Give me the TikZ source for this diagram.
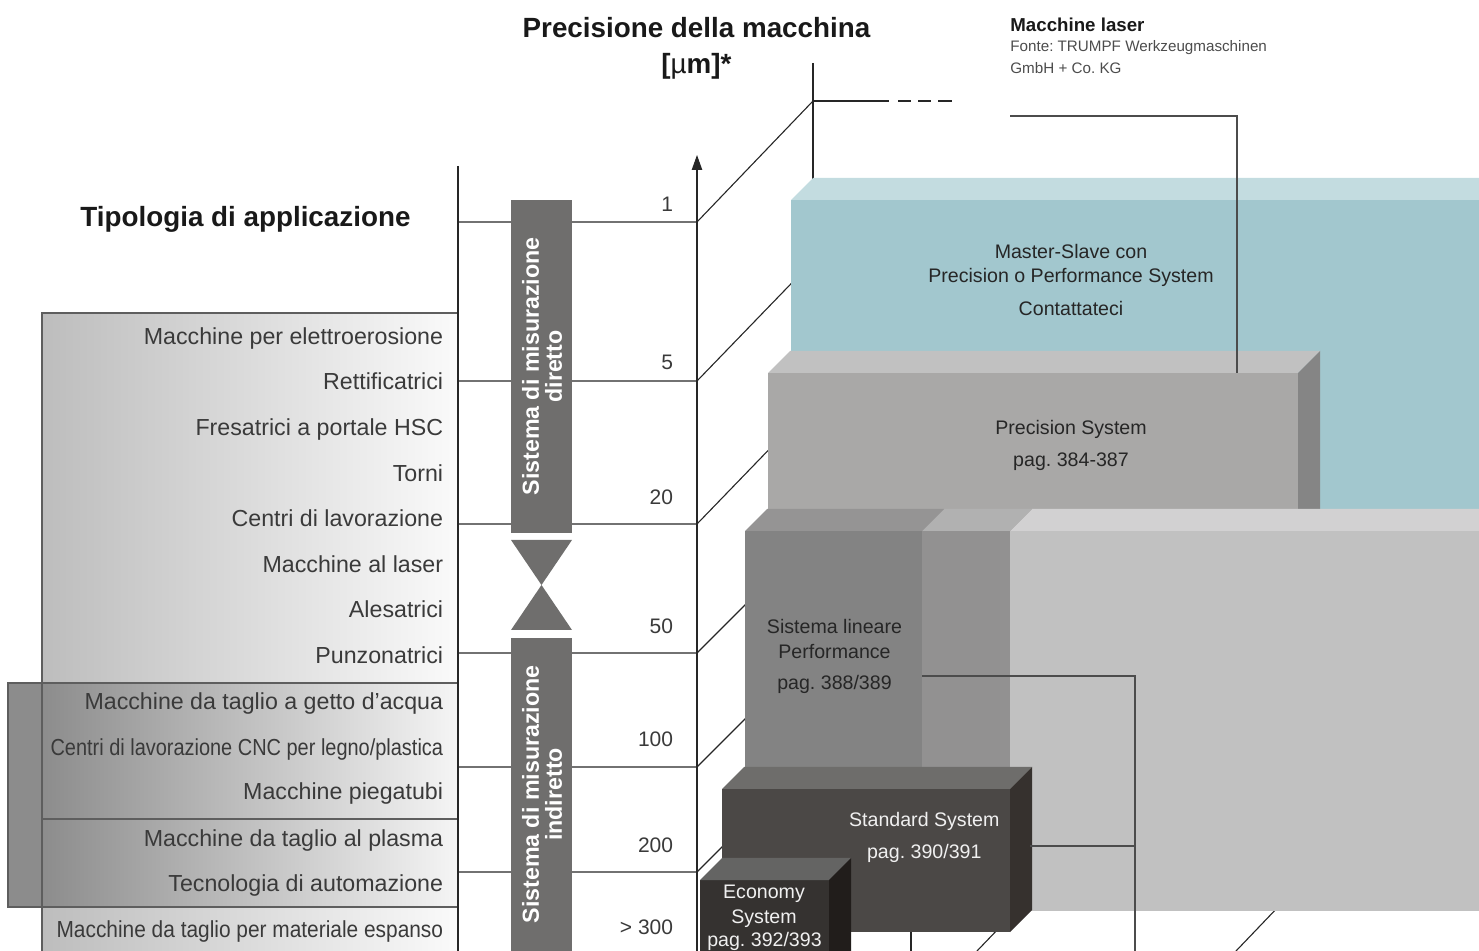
\documentclass[tikz,border=0pt]{standalone}
\usepackage{fontspec}
\setmainfont{Liberation Sans}
\usepackage{graphicx}
\usetikzlibrary{arrows.meta, calc, positioning}
\definecolor{tealfront}{HTML}{A2C7CE}
\definecolor{tealtop}{HTML}{C3DCE0}
\definecolor{precfront}{HTML}{A9A8A7}
\definecolor{prectop}{HTML}{C1C1C1}
\definecolor{precside}{HTML}{858585}
\definecolor{perffront}{HTML}{838383}
\definecolor{perftop}{HTML}{959494}
\definecolor{midfront}{HTML}{929191}
\definecolor{midtop}{HTML}{B1B1B1}
\definecolor{bigfront}{HTML}{C1C1C1}
\definecolor{bigtop}{HTML}{D2D1D2}
\definecolor{stdfront}{HTML}{4B4846}
\definecolor{stdtop}{HTML}{6E6D6B}
\definecolor{stdside}{HTML}{36312E}
\definecolor{ecofront}{HTML}{353230}
\definecolor{ecotop}{HTML}{646463}
\definecolor{ecoside}{HTML}{211D1B}
\definecolor{barfill}{HTML}{6F6E6D}
\definecolor{applight}{HTML}{BDBDBD}
\definecolor{appdark}{HTML}{8C8C8C}
\definecolor{framegrey}{HTML}{5E5E5E}
\definecolor{textgrey}{HTML}{3A3A3A}
\tikzset{
  apptext/.style={anchor=base east, inner sep=0pt, text=textgrey, font=\fontsize{11.6}{14}\selectfont},
  ticklabel/.style={anchor=base east, inner sep=0pt, text=textgrey, font=\fontsize{10.5}{12}\selectfont},
  heading/.style={inner sep=0pt, text=black!90, font=\fontsize{13.9}{16}\selectfont\bfseries},
  source/.style={anchor=base west, inner sep=0pt, text=black!70, font=\fontsize{7.6}{9}\selectfont},
  blocktext/.style={anchor=base, inner sep=0pt, text=black!85, font=\fontsize{9.8}{12}\selectfont},
  blockwhite/.style={blocktext, text=white!94!black},
  bartext/.style={rotate=90, align=center, inner sep=0pt, text=white, font=\fontsize{11.6}{11.5}\selectfont\bfseries},
  gridline/.style={line width=0.55pt, black!85},
  frame/.style={line width=0.55pt, framegrey},
  leader/.style={line width=0.55pt, black!70}
}
\begin{document}
\frenchspacing
\begin{tikzpicture}[x=0.5pt, y=-0.5pt]
  \useasboundingbox (0,0) rectangle (1479,951);
  \clip (0,0) rectangle (1479,951);

  % application list
  \shade[left color=applight, right color=white!98!black] (42,313) rectangle (458,960);
  \shade[left color=appdark, right color=white!96!black] (42,683) rectangle (458,907);
  \fill[appdark] (8,683) rectangle (42,907);
  \draw[frame] (8,683) rectangle (42,907);
  \draw[frame] (42,960) -- (42,313) -- (458,313);
  \draw[frame] (8,683) -- (458,683);
  \draw[frame] (42,819) -- (458,819);
  \draw[frame] (8,907) -- (458,907);

  % axes and grid
  \coordinate (g1) at (697,222);
  \coordinate (g5) at (697,381);
  \coordinate (g20) at (697,524);
  \coordinate (g50) at (697,653);
  \coordinate (g100) at (697,767);
  \coordinate (g200) at (697,872);
  \draw[gridline] (458,166) -- (458,951);
  \draw[gridline] (458,222) -- (g1) -- ++(116,-121) coordinate (back);
  \draw[gridline] (458,381) -- (g5) -- ++(116,-120);
  \draw[gridline] (458,524) -- (g20) -- ++(116,-120);
  \draw[gridline] (458,653) -- (g50) -- ++(60,-60);
  \draw[gridline] (458,767) -- (g100) -- ++(60,-60);
  \draw[gridline] (458,872) -- (g200) -- ++(40,-40);
  \draw[gridline, -{Triangle[width=5.2pt,length=7.5pt]}] (697,951) -- (697,155);
  \draw[gridline] (813,63) -- (813,190);
  \draw[gridline] (back) -- (889,101);
  \draw[gridline, dash pattern=on 6.6pt off 3.5pt] (898,101) -- (952,101);
  \draw[gridline] (911,925) -- (911,951);
  \draw[gridline] (977,951) -- (1000,927);
  \draw[gridline] (1236,951) -- (1280,905);

  % measuring bars
  \fill[barfill] (511,200) rectangle (572,533);
  \fill[barfill] (511,540) -- (572,540) -- (541.5,585) -- cycle;
  \fill[barfill] (511,630) -- (572,630) -- (541.5,585) -- cycle;
  \fill[barfill] (511,638) rectangle (572,960);

  % Master-Slave block
  \fill[tealfront] (791,200) rectangle (1479,531);
  \fill[tealtop] (791,200) -- (813,178) -- (1501,178) -- (1479,200) -- cycle;
  % Precision block
  \fill[precfront] (768,373) rectangle (1298,531);
  \fill[prectop] (768,373) -- (790,351) -- (1320,351) -- (1298,373) -- cycle;
  \fill[precside] (1298,373) -- (1320,351) -- (1320,509) -- (1298,531) -- cycle;

  \coordinate (precpin) at (1237,373);
  % lower row
  \fill[bigfront] (1010,531) rectangle (1479,911);
  \fill[bigtop] (1010,531) -- (1032,509) -- (1501,509) -- (1479,531) -- cycle;
  \fill[midfront] (922,531) rectangle (1010,790);
  \fill[midtop] (922,531) -- (944,509) -- (1032,509) -- (1010,531) -- cycle;
  \fill[perffront] (745,531) rectangle (922,790);
  \fill[perftop] (745,531) -- (767,509) -- (944,509) -- (922,531) -- cycle;
  % Standard block
  \fill[stdfront] (722,789) rectangle (1010,932);
  \fill[stdtop] (722,789) -- (744,767) -- (1032,767) -- (1010,789) -- cycle;
  \fill[stdside] (1010,789) -- (1032,767) -- (1032,910) -- (1010,932) -- cycle;
  % Economy block
  \fill[ecofront] (700,880) rectangle (829,960);
  \fill[ecotop] (700,880) -- (722,858) -- (851,858) -- (829,880) -- cycle;
  \fill[ecoside] (829,880) -- (851,858) -- (851,960) -- (829,960) -- cycle;

  % titles
  \node[heading, anchor=base west] (apptitle) at (80,226.7) {Tipologia di applicazione};
  \node[heading, anchor=base] (prectitle) at (696.5,37.3) {Precisione della macchina};
  \node[heading, anchor=base] (unit) at (696.5,74) {[{\mdseries µ}m]*};
  \node[anchor=base west, inner sep=0pt, text=black!90, font=\fontsize{9.35}{11}\selectfont\bfseries]
        (laser) at (1010,31.7) {Macchine laser};
  \node[source] (src1) at (1010,51.7) {Fonte: TRUMPF Werkzeugmaschinen};
  \node[source] (src2) at (1010,74) {GmbH + Co. KG};

  % leaders
  \coordinate (laserlead) at ($(src2.base west)+(0,42)$);
  \coordinate (perfpin) at (922,676);
  \coordinate (stdpin) at (1030,846);
  \coordinate (busend) at (1135,951);
  \draw[leader] (laserlead) -| (precpin);
  \draw[leader] (perfpin) -| (busend);
  \draw[leader] (stdpin) -- (stdpin -| busend);

  % application types
  \node[apptext] (edm) at (443.5,345) {Macchine per elettroerosione};
  \node[apptext] (grind) at (443.5,390) {Rettificatrici};
  \node[apptext] (hsc) at (443.5,436) {Fresatrici a portale HSC};
  \node[apptext] (lathe) at (443.5,482) {Torni};
  \node[apptext] (mill) at (443.5,527) {Centri di lavorazione};
  \node[apptext] (lasercut) at (443.5,573) {Macchine al laser};
  \node[apptext] (bore) at (443.5,618) {Alesatrici};
  \node[apptext] (punch) at (443.5,664) {Punzonatrici};
  \node[apptext] (water) at (443.5,710) {Macchine da taglio a getto d’acqua};
  \node[apptext] (cnc) at (443.5,756) {\scalebox{0.86}[1]{Centri di lavorazione CNC per legno/plastica}};
  \node[apptext] (bend) at (443.5,800) {Macchine piegatubi};
  \node[apptext] (plasma) at (443.5,847) {Macchine da taglio al plasma};
  \node[apptext] (auto) at (443.5,892) {Tecnologia di automazione};
  \node[apptext] (foam) at (443.5,937) {\scalebox{0.9}[1]{Macchine da taglio per materiale espanso}};

  % scale values
  \node[ticklabel] (tk1) at (673.5,211.7) {1};
  \node[ticklabel] (tk5) at (673.5,369.3) {5};
  \node[ticklabel] (tk20) at (673.5,505) {20};
  \node[ticklabel] (tk50) at (673.5,633.3) {50};
  \node[ticklabel] (tk100) at (673.5,746.7) {100};
  \node[ticklabel] (tk200) at (673.5,852.3) {200};
  \node[ticklabel] (tk300) at (673.5,935) {> 300};

  \node[bartext] (direct) at (542,366.5) {Sistema di misurazione\\diretto};
  \node[bartext] (indirect) at (542,794.5) {Sistema di misurazione\\indiretto};

  % block labels
  \node[blocktext] (ms1) at (1071,259) {Master-Slave con};
  \node[blocktext] (ms2) at (1071,282.7) {Precision o Performance System};
  \node[blocktext] (ms3) at (1071,315.7) {Contattateci};
  \node[blocktext] (ps1) at (1071,434.3) {Precision System};
  \node[blocktext] (ps2) at (1071,466.5) {pag. 384-387};
  \node[blocktext] (pf1) at (834.5,633.3) {Sistema lineare};
  \node[blocktext] (pf2) at (834.5,658.3) {Performance};
  \node[blocktext] (pf3) at (834.5,690) {pag. 388/389};
  \node[blockwhite] (st1) at (924.3,826.7) {Standard System};
  \node[blockwhite] (st2) at (924.3,858.3) {pag. 390/391};
  \node[blockwhite] (ec1) at (764,898.3) {Economy};
  \node[blockwhite] (ec2) at (764,923.3) {System};
  \node[blockwhite] (ec3) at (764.5,946.7) {pag. 392/393};
\end{tikzpicture}
\end{document}
